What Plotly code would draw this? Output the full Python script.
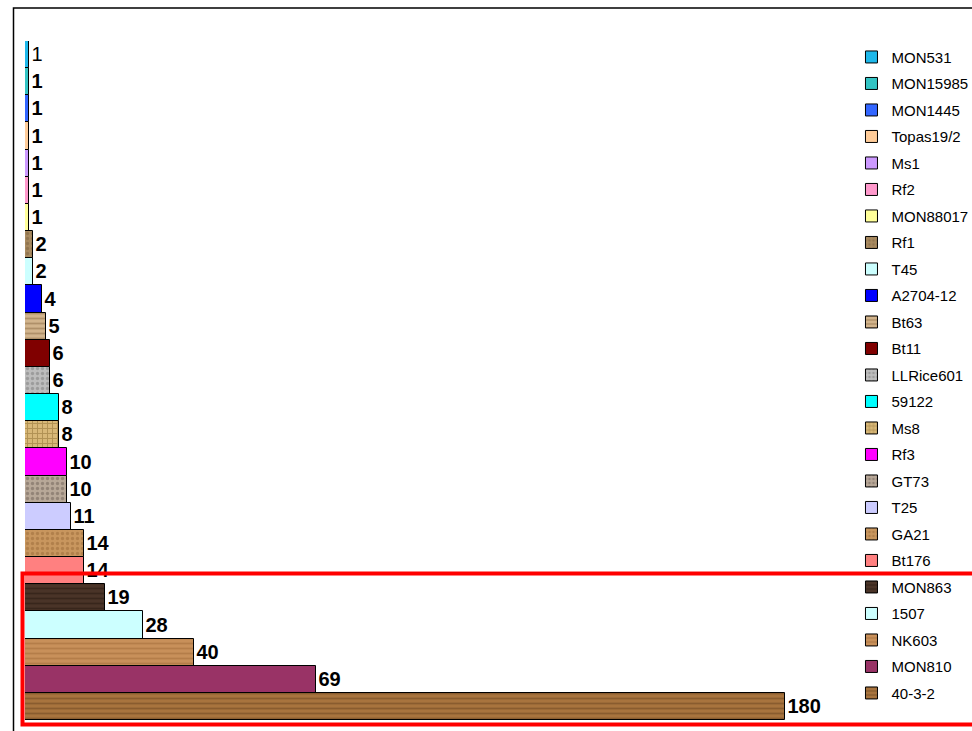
import plotly.graph_objects as go

# Events, listed top to bottom, with their counts
events = ["MON531", "MON15985", "MON1445", "Topas19/2", "Ms1", "Rf2", "MON88017",
          "Rf1", "T45", "A2704-12", "Bt63", "Bt11", "LLRice601", "59122", "Ms8",
          "Rf3", "GT73", "T25", "GA21", "Bt176", "MON863", "1507", "NK603",
          "MON810", "40-3-2"]
counts = [1, 1, 1, 1, 1, 1, 1, 2, 2, 4, 5, 6, 6, 8, 8, 10, 10, 11, 14, 14,
          19, 28, 40, 69, 180]

# Fill colour per event; textured fills get a pattern on top
fills = ["#1EB8EA", "#33C4C4", "#3366FF", "#FFCC99", "#CC99FF", "#FF99CC", "#FFFF99",
         "#A88A60", "#CCFFFF", "#0000FF", "#D2B48C", "#800000", "#BDBDBD", "#00FFFF",
         "#D8B878", "#FF00FF", "#B8A898", "#CCCCFF", "#C8965E", "#FF8080",
         "#4A3428", "#CCFFFF", "#C8905A", "#993366", "#A8743E"]
patterns = {
    "Rf1": (".", "#7A6040"),
    "Bt63": ("-", "#8B6B45"),
    "LLRice601": (".", "#7C7C7C"),
    "Ms8": ("+", "#8A6A30"),
    "GT73": (".", "#6E6055"),
    "GA21": (".", "#9A6A38"),
    "MON863": ("-", "#261810"),
    "NK603": ("-", "#A06A38"),
    "40-3-2": ("-", "#6A4420"),
}

fig = go.Figure()
for i, (name, val, col) in enumerate(zip(events, counts, fills)):
    marker = dict(color=col, line=dict(color="black", width=1))
    if name in patterns:
        shp, fg = patterns[name]
        marker["pattern"] = dict(shape=shp, fgcolor=fg, bgcolor=col, size=5, solidity=0.35)
    fig.add_trace(go.Bar(
        x=[val], y=[name], orientation="h", name=name, legendgroup=name,
        marker=marker, width=1,
        text=[str(val)], textposition="outside", cliponaxis=False,
        textfont=dict(family="Arial, Liberation Sans, sans-serif", size=20, color="black",
                      weight="normal" if i == 0 else "bold"),
    ))

fig.update_layout(
    width=972, height=731,
    margin=dict(l=25, r=103, t=41, b=11, autoexpand=False),
    paper_bgcolor="white", plot_bgcolor="white",
    barmode="overlay", bargap=0,
    showlegend=True,
    legend=dict(xref="container", yref="container", x=0.876, y=0.9443,
                xanchor="left", yanchor="top",
                traceorder="grouped", tracegroupgap=4, maxheight=900,
                font=dict(family="Arial, Liberation Sans, sans-serif", size=15, color="black"),
                bgcolor="rgba(0,0,0,0)"),
    xaxis=dict(range=[0, 200], visible=False),
    yaxis=dict(categoryorder="array", categoryarray=events, autorange="reversed",
               visible=False),
    shapes=[
        # outer chart frame
        dict(type="rect", xref="paper", yref="paper",
             x0=(13.5 - 25) / 844, x1=1.2, y0=-0.1, y1=(720 - 8) / 679,
             line=dict(color="black", width=1.5), layer="below"),
        # highlight box around the five largest counts
        dict(type="rect", xref="paper", yref="paper",
             x0=(22.5 - 25) / 844, x1=(985 - 25) / 844,
             y0=(720 - 724.5) / 679, y1=(720 - 573.5) / 679,
             line=dict(color="#FF0000", width=4), layer="above"),
    ],
)

fig.write_html("out.html")
